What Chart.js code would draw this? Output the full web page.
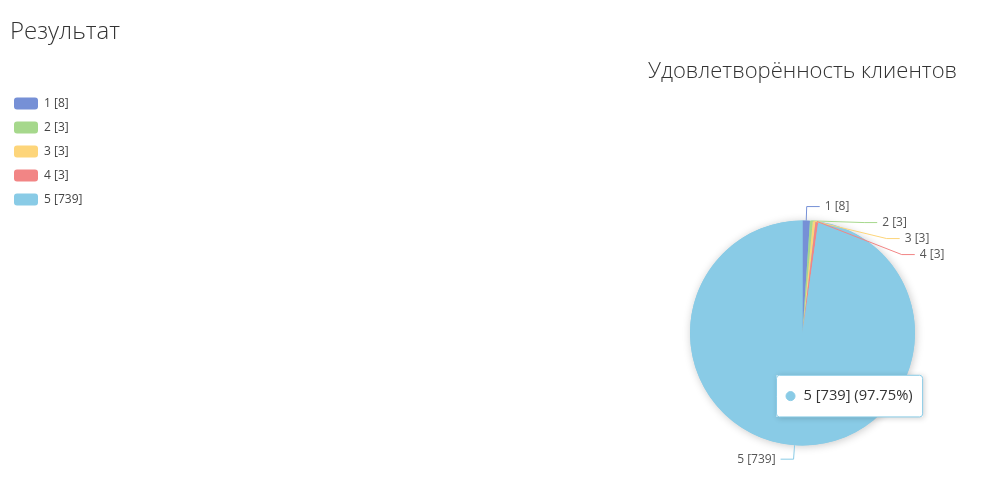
<!DOCTYPE html>
<html>
<head>
<meta charset="utf-8">
<script src="https://cdn.jsdelivr.net/npm/chart.js@4.4.1/dist/chart.umd.min.js"></script>
<style>
    html, body { margin: 0; padding: 0; background: #fff; }
    #page { position: relative; width: 985px; height: 480px; overflow: hidden; }
    #wrap { position: absolute; left: 0; top: 0; width: 985px; height: 480px; }
    h2 {
        position: absolute; left: 10px; top: 13px; margin: 0;
        font: 300 24px "Open Sans", sans-serif; color: #333;
    }
</style>
</head>
<body>
<div id="page">
    <div id="wrap"><canvas id="satChart"></canvas></div>
    <h2>Результат</h2>
</div>
<script>
/* ---------- data ---------- */
const categories = ['1', '2', '3', '4', '5'];
const counts = [8, 3, 3, 3, 739];
const sliceColors = ['#7690d6', '#a6d88c', '#fdd57a', '#f28585', '#89cbe6'];
const chartTitle = 'Удовлетворённость клиентов';

const labels = categories.map((c, i) => c + ' [' + counts[i] + ']');
const total = counts.reduce((a, b) => a + b, 0);

Chart.defaults.font.family = '"Open Sans", sans-serif';

// tooltip placed next to the slice centroid
Chart.Tooltip.positioners.nearSlice = function (items) {
    if (!items.length) return false;
    const p = items[0].element.tooltipPosition();
    return { x: p.x - 22, y: p.y + 7 };
};

/* ---------- pie position + title centred above it ---------- */
const pieBox = {
    id: 'pieBox',
    afterLayout(chart) {
        const cx = 802.5, cy = 333, r = 112.5;
        const a = chart.chartArea;
        a.left = cx - r; a.right = cx + r; a.top = cy - r; a.bottom = cy + r;
        a.width = 2 * r; a.height = 2 * r;
        const t = chart.titleBlock;
        t.left = cx - 200; t.right = cx + 200; t.width = 400;
    }
};

/* ---------- shadow, outside labels with connectors ---------- */
const pieLabels = {
    id: 'pieLabels',
    beforeDatasetsDraw(chart) {
        const arc = chart.getDatasetMeta(0).data[0];
        const ctx = chart.ctx;
        ctx.save();
        ctx.shadowColor = 'rgba(0, 0, 0, 0.22)';
        ctx.shadowBlur = 8;
        ctx.shadowOffsetX = 1;
        ctx.shadowOffsetY = 1;
        ctx.fillStyle = sliceColors[4];
        ctx.beginPath();
        ctx.arc(arc.x, arc.y, arc.outerRadius, 0, Math.PI * 2);
        ctx.fill();
        ctx.restore();
    },
    afterDatasetsDraw(chart) {
        const ctx = chart.ctx;
        const meta = chart.getDatasetMeta(0);
        const items = meta.data.map((arc, i) => {
            const mid = (arc.startAngle + arc.endAngle) / 2;
            const R = arc.outerRadius + 14;
            return {
                i, arc, mid, R,
                side: Math.cos(mid) >= 0 ? 1 : -1,
                y: arc.y + R * Math.sin(mid)
            };
        });
        // push overlapping labels apart (per side)
        [1, -1].forEach(side => {
            let prev = -Infinity;
            items.filter(it => it.side === side)
                .sort((a, b) => a.y - b.y)
                .forEach(it => { it.y = Math.max(it.y, prev + 16); prev = it.y; });
        });

        ctx.save();
        ctx.font = '12px "Open Sans", sans-serif';
        ctx.textBaseline = 'middle';
        ctx.lineWidth = 1;
        items.forEach(it => {
            const { arc, mid, R, side, y } = it;
            const x0 = arc.x + arc.outerRadius * Math.cos(mid);
            const y0 = arc.y + arc.outerRadius * Math.sin(mid);
            const dy = y - arc.y;
            const bx = arc.x + side * Math.sqrt(Math.max(0, R * R - dy * dy));
            const ex = bx + side * 13;
            ctx.strokeStyle = sliceColors[it.i];
            ctx.beginPath();
            ctx.moveTo(x0, y0);
            ctx.lineTo(bx, y);
            ctx.lineTo(ex, y);
            ctx.stroke();
            ctx.fillStyle = '#555';
            ctx.textAlign = side > 0 ? 'left' : 'right';
            ctx.fillText(labels[it.i], ex + side * 5, y);
        });
        ctx.restore();
    },
    beforeTooltipDraw(chart, args) {
        const t = args.tooltip;
        if (!t.opacity) return;
        const ctx = chart.ctx;
        ctx.save();
        ctx.shadowColor = 'rgba(0, 0, 0, 0.2)';
        ctx.shadowBlur = 6;
        ctx.shadowOffsetX = 1;
        ctx.shadowOffsetY = 1;
        ctx.fillStyle = '#fff';
        ctx.fillRect(t.x, t.y, t.width, t.height);
        ctx.restore();
    }
};

const chart = new Chart(document.getElementById('satChart'), {
    type: 'pie',
    data: {
        labels: labels,
        datasets: [{
            data: counts,
            backgroundColor: sliceColors,
            borderWidth: 0,
            hoverOffset: 0,
            clip: false
        }]
    },
    options: {
        responsive: true,
        maintainAspectRatio: false,
        animation: false,
        layout: { padding: { left: 2 } },
        plugins: {
            title: {
                display: true,
                text: chartTitle,
                color: '#333',
                font: { size: 22, weight: '300' },
                padding: { top: 59, bottom: 0 }
            },
            legend: {
                position: 'left',
                align: 'start',
                fullSize: false,
                labels: {
                    boxWidth: 24,
                    boxHeight: 12,
                    useBorderRadius: true,
                    borderRadius: 3,
                    padding: 12,
                    color: '#444',
                    font: { size: 12 }
                }
            },
            tooltip: {
                position: 'nearSlice',
                xAlign: 'left',
                yAlign: 'center',
                caretSize: 0,
                caretPadding: 0,
                backgroundColor: '#fff',
                borderColor: sliceColors[4],
                borderWidth: 1,
                cornerRadius: 3,
                bodyColor: '#333',
                bodyFont: { size: 14.7 },
                padding: { left: 3, right: 10, top: 12, bottom: 12 },
                usePointStyle: true,
                boxWidth: 22,
                boxHeight: 9,
                callbacks: {
                    title: () => '',
                    label: c => c.label + ' (' + (c.parsed / total * 100).toFixed(2) + '%)',
                    labelColor: c => ({
                        borderColor: sliceColors[c.dataIndex],
                        backgroundColor: sliceColors[c.dataIndex]
                    })
                }
            }
        }
    },
    plugins: [pieBox, pieLabels]
});

chart.tooltip.setActiveElements([{ datasetIndex: 0, index: 4 }], { x: 0, y: 0 });
chart.update();
</script>
</body>
</html>
